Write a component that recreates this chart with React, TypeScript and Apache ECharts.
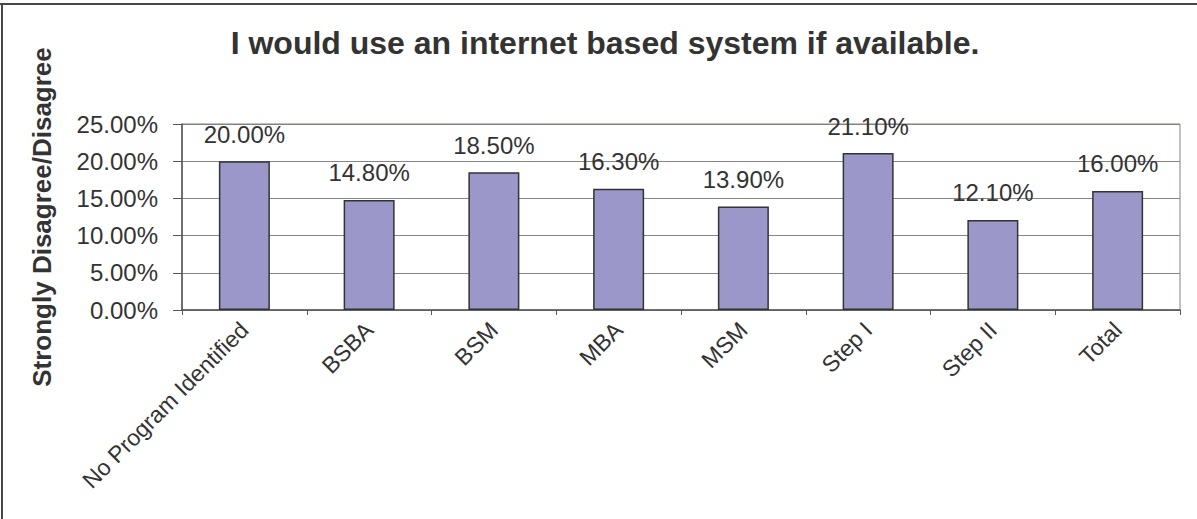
import React, { useEffect, useRef } from "react";
import * as echarts from "echarts";

const categories = [
  "No Program Identified",
  "BSBA",
  "BSM",
  "MBA",
  "MSM",
  "Step I",
  "Step II",
  "Total",
];
const values = [20.0, 14.8, 18.5, 16.3, 13.9, 21.1, 12.1, 16.0];
const titleText = "I would use an internet based system if available.";
const yAxisTitle = "Strongly Disagree/Disagree";

const FONT = "'Liberation Sans', Arial, Helvetica, sans-serif";
const TEXT = "#333333";

export default function App() {
  const ref = useRef<HTMLDivElement>(null);

  useEffect(() => {
    document.body.style.margin = "0";
    if (!ref.current) return;
    const chart = echarts.init(ref.current, undefined, { renderer: "svg" });
    chart.setOption({
      animation: false,
      backgroundColor: "#ffffff",
      textStyle: { fontFamily: FONT, color: TEXT },
      grid: {
        left: 182,
        right: 17,
        top: 124,
        bottom: 209,
        show: true,
        borderColor: "#8a7e7e",
        borderWidth: 1,
        backgroundColor: "transparent",
      },
      graphic: [
        {
          type: "line",
          shape: { x1: 0, y1: 4, x2: 1197, y2: 4 },
          style: { stroke: "#474747", lineWidth: 2 },
          z: 100,
        },
        {
          type: "line",
          shape: { x1: 2, y1: 3, x2: 2, y2: 519 },
          style: { stroke: "#474747", lineWidth: 2 },
          z: 100,
        },
        {
          type: "text",
          x: 605,
          y: 43,
          style: {
            text: titleText,
            fontFamily: FONT,
            fontSize: 32,
            fontWeight: "bold",
            fill: TEXT,
            textAlign: "center",
            textVerticalAlign: "middle",
          },
        },
      ],
      xAxis: {
        type: "category",
        data: categories,
        axisLine: { show: true, lineStyle: { color: "#555555", width: 1.5 } },
        axisTick: { show: true, length: 5, lineStyle: { color: "#555555", width: 1 } },
        axisLabel: {
          rotate: 45,
          interval: 0,
          margin: 16,
          fontSize: 23,
          color: TEXT,
          fontFamily: FONT,
        },
        splitLine: { show: false },
      },
      yAxis: {
        type: "value",
        min: 0,
        max: 25,
        interval: 5,
        name: yAxisTitle,
        nameLocation: "middle",
        nameGap: 127,
        nameTextStyle: {
          fontSize: 26,
          fontWeight: "bold",
          color: TEXT,
          fontFamily: FONT,
        },
        axisLine: { show: true, lineStyle: { color: "#555555", width: 1.5 } },
        axisTick: { show: true, length: 9, lineStyle: { color: "#555555", width: 1 } },
        axisLabel: {
          margin: 24,
          fontSize: 24,
          color: TEXT,
          fontFamily: FONT,
          formatter: (v: number) => v.toFixed(2) + "%",
        },
        splitLine: {
          show: true,
          lineStyle: {
            color: ["#868686", "#868686", "#868686", "#868686", "#868686", "#8a7e7e"],
            width: 1,
          },
        },
      },
      series: [
        {
          type: "bar",
          data: values,
          barWidth: 51,
          itemStyle: {
            color: "#9b97c8",
            borderColor: "#333333",
            borderWidth: 1.5,
          },
          label: {
            show: true,
            position: "top",
            distance: 15,
            fontSize: 24,
            color: TEXT,
            fontFamily: FONT,
            formatter: (p: any) => Number(p.value).toFixed(2) + "%",
          },
        },
      ],
    });
    return () => chart.dispose();
  }, []);

  return <div ref={ref} style={{ width: 1197, height: 519 }} />;
}
